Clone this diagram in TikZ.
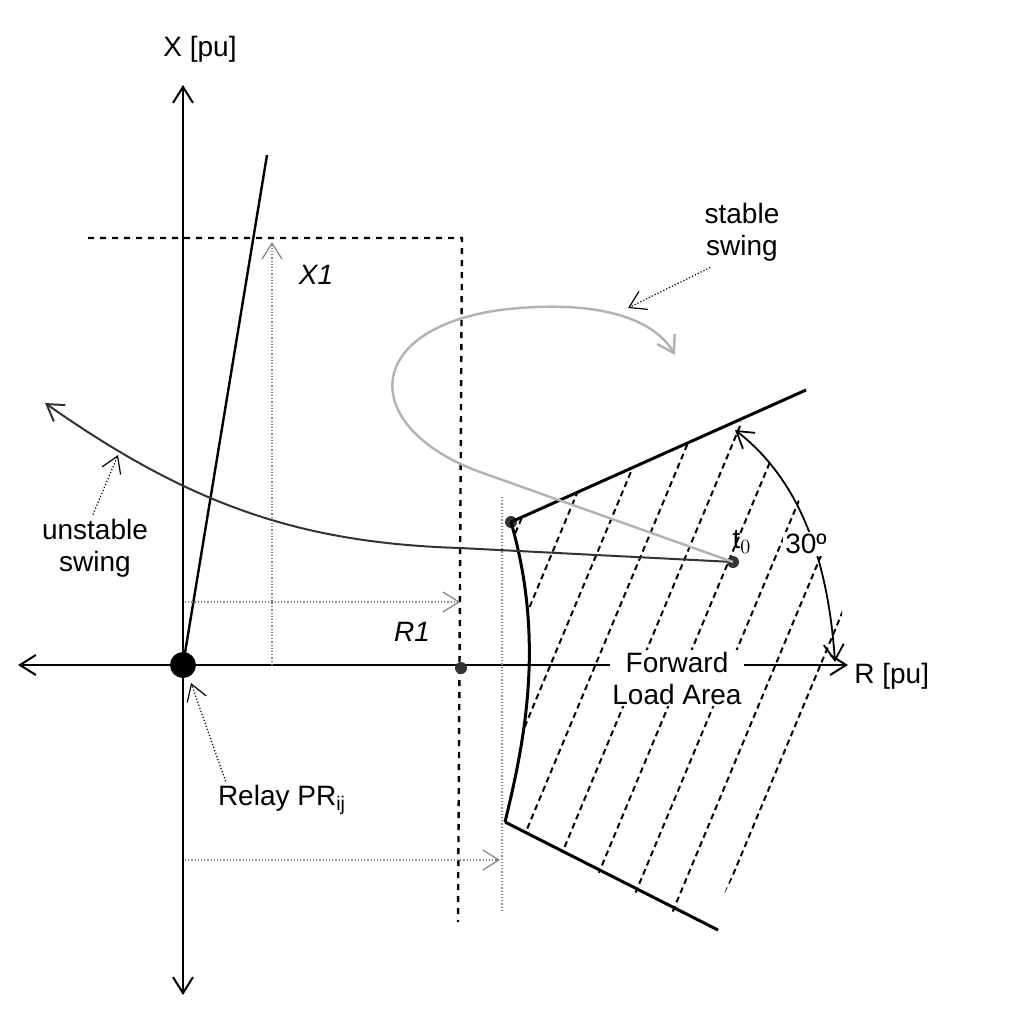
\documentclass[tikz,border=0pt]{standalone}
\usepackage{fontspec}
\setmainfont{Liberation Sans}
\usetikzlibrary{arrows.meta}
\begin{document}
\begin{tikzpicture}[x=0.5pt,y=-0.5pt,
  tip/.style={-{Straight Barb[length=8pt,width=10pt]}},
  axis/.style={line width=1pt,{Straight Barb[length=8pt,width=10pt]}-{Straight Barb[length=8pt,width=10pt]}},
  bound/.style={line width=1.5pt},
  dotl/.style={densely dotted,line width=0.6pt,gray},
  lbl/.style={font=\fontsize{14}{16}\selectfont,align=center,inner sep=1pt},
  dot/.style={circle,fill=black!80,inner sep=0pt,minimum size=6pt}]
\useasboundingbox (0,0) rectangle (1024,1019);
% hatching
\begin{scope}
\clip (511,522) -- (740,420) -- (842,560) -- (842,660) -- (790,770) -- (705,930) -- (505,822) .. controls (525,740) and (545,640) .. (511,522) -- cycle;
\foreach \k in {-12,...,8}{
  \draw[densely dashed,line width=1pt] ({530+45*\k},930) -- ++(300,-720);
}
\end{scope}
% axes
\coordinate (O) at (183,665);
\coordinate (Xt) at (183,85); \coordinate (Xb) at (183,995);
\coordinate (Rl) at (18,665); \coordinate (Rr) at (848,665);
\draw[axis] (Xb) -- (Xt);
\draw[axis] (Rl) -- (Rr);
\node[circle,fill=black,inner sep=0pt,minimum size=13pt] (orig) at (O) {};
\node[lbl,anchor=south] (xl) at (200,65) {X [pu]};
\node[lbl,anchor=west] (rl) at (852,676) {R [pu]};
% steep line
\coordinate (st) at (267,155);
\draw[line width=1.2pt] (O) -- (st);
% dashed rectangle
\coordinate (d1) at (88,238); \coordinate (d2) at (462,238); \coordinate (d3) at (458,922);
\draw[dashed,line width=1.2pt] (d1) -- (d2) -- (d3);
\node[dot] (rdot) at (461,668) {};
% dotted measures
\coordinate (x1a) at (272,665); \coordinate (x1b) at (272,242);
\draw[dotl,tip] (x1a) -- (x1b);
\node[lbl,font=\fontsize{14}{16}\selectfont\itshape] (x1) at (316,275) {X1};
\coordinate (r1a) at (185,602); \coordinate (r1b) at (460,602);
\draw[dotl,tip] (r1a) -- (r1b);
\node[lbl,font=\fontsize{14}{16}\selectfont\itshape] (r1) at (412,632) {R1};
\coordinate (b1) at (185,860); \coordinate (b2) at (500,860);
\draw[dotl,tip] (b1) -- (b2);
\coordinate (v1) at (502,497); \coordinate (v2) at (502,912);
\draw[dotl] (v1) -- (v2);
% load area boundary
\node[dot] (p1) at (511,522) {};
\coordinate (p2) at (806,390);
\coordinate (p3) at (505,822);
\coordinate (p4) at (718,930);
\draw[bound] (p1.center) -- (p2);
\draw[bound] (p3) -- (p4);
\draw[bound] (p1.center) .. controls (545,640) and (525,740) .. (p3);
% swings
\node[dot] (t0) at (733,562) {};
\coordinate (us) at (45,403);
\draw[line width=1pt,gray!40!black,tip] (t0.center) -- (460,548) .. controls (300,543) and (190,505) .. (us);
\coordinate (ss) at (675,355);
\draw[line width=1.2pt,gray!60,tip] (t0.center) -- (480,472) .. controls (360,428) and (360,330) .. (500,310) .. controls (600,298) and (655,320) .. (ss);
\node[lbl] (t0l) at (742,542) {t$_0$};
% 30 deg arc
\coordinate (a1) at (835,662); \coordinate (a2) at (735,430);
\draw[line width=0.9pt,{Straight Barb[length=8pt,width=10pt]}-{Straight Barb[length=8pt,width=10pt]}] (a1) .. controls (828,560) and (800,480) .. (a2);
\node[lbl,fill=white] (deg) at (806,544) {30º};
% labels
\node[lbl,fill=white] (fla) at (677,678) {Forward\\Load Area};
\node[lbl] (ssl) at (742,232) {stable\\swing};
\node[lbl] (usl) at (95,548) {unstable\\swing};
\node[lbl] (rel) at (282,800) {Relay PR$_{\mathrm{ij}}$};
\coordinate (sp) at (628,308); \coordinate (up) at (118,455); \coordinate (rp) at (191,683);
\draw[dotl,black,tip] (ssl.south west) ++(8,4) -- (sp);
\draw[dotl,black,tip] (usl.north) ++(-2,-2) -- (up);
\draw[dotl,black,tip] (rel.north west) ++(10,-2) -- (rp);
\end{tikzpicture}
\end{document}
